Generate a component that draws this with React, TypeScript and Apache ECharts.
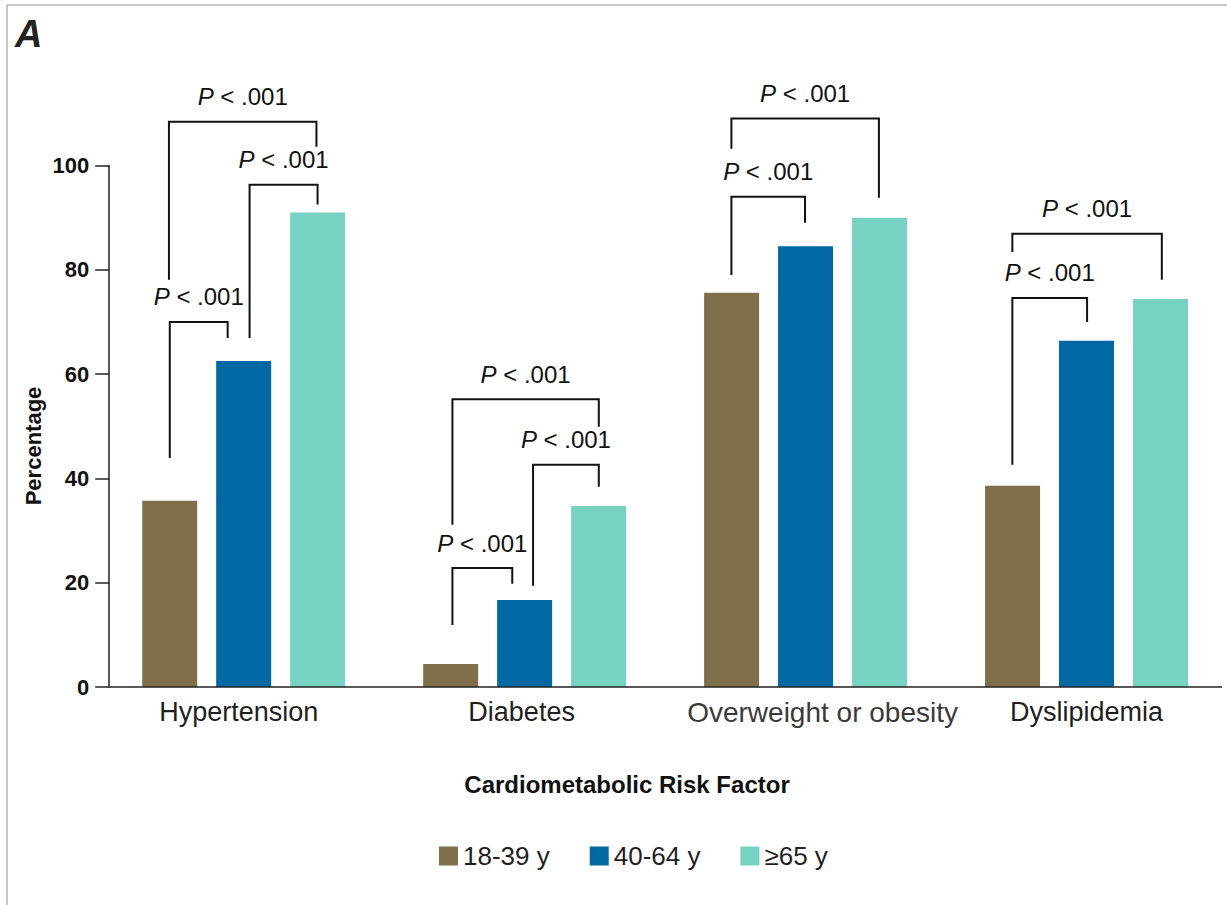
import { useEffect, useRef } from "react";
import * as echarts from "echarts";

const categories = ["Hypertension", "Diabetes", "Overweight or obesity", "Dyslipidemia"];
const seriesNames = ["18-39 y", "40-64 y", "≥65 y"];
const age18to39 = [35.7, 4.4, 75.6, 38.6];
const age40to64 = [62.5, 16.7, 84.5, 66.4];
const age65plus = [91.0, 34.7, 90.0, 74.4];
const yMin = 0;
const yMax = 100;
const yStep = 20;

// Significance brackets: category index, left / right leg offset (fraction of the
// category band from its centre), top of bracket, and end of left / right legs (percent units)
const bracketCategory = [0, 0, 0, 1, 1, 1, 2, 2, 3, 3];
const bracketLeft = [-0.263, 0.021, -0.266, -0.257, 0.03, -0.257, -0.264, -0.264, -0.264, -0.264];
const bracketRight = [-0.057, 0.263, 0.259, -0.044, 0.264, 0.264, -0.002, 0.261, 0.002, 0.268];
const bracketTop = [70.0, 96.3, 108.4, 22.8, 42.6, 55.2, 94.0, 109.0, 74.6, 86.9];
const bracketLeftEnd = [43.9, 66.9, 78.1, 11.9, 19.4, 31.1, 79.0, 103.2, 42.6, 83.4];
const bracketRightEnd = [66.9, 92.5, 103.6, 19.8, 38.4, 49.9, 89.0, 93.8, 70.0, 78.1];
const pValues = ["< .001", "< .001", "< .001", "< .001", "< .001", "< .001", "< .001", "< .001", "< .001", "< .001"];

const FONT = "'Liberation Sans', Arial, Helvetica, sans-serif";
const COLORS = ["#80704A", "#0069A3", "#76D2C2"];
const TEXT = "#1f1f1f";

export default function App() {
  const ref = useRef<HTMLDivElement>(null);

  useEffect(() => {
    if (!ref.current) return;
    const chart = echarts.init(ref.current, undefined, { renderer: "svg" });

    const labelShift = [
      { padding: [0, 10, 0, 0] },
      { padding: [0, 6, 0, 0] },
      { padding: [0, 0, 0, 34], color: "#3a3a3a", fontSize: 28 },
      { padding: [0, 0, 0, 0] },
    ];

    const bracketData = bracketCategory.map((c, i) => [
      c,
      bracketLeft[i],
      bracketRight[i],
      bracketTop[i],
      bracketLeftEnd[i],
      bracketRightEnd[i],
    ]);

    const seriesValues = [age18to39, age40to64, age65plus];

    const option: any = {
      animation: false,
      backgroundColor: "#ffffff",
      textStyle: { fontFamily: FONT },
      grid: { left: 103.2, width: 1126.7, top: 165.5, height: 521.5, containLabel: false },
      legend: {
        data: seriesNames,
        left: 434,
        top: 838,
        icon: "rect",
        itemWidth: 19,
        itemHeight: 19,
        itemGap: 40,
        textStyle: { fontSize: 26, color: TEXT, fontFamily: FONT },
      },
      xAxis: {
        type: "category",
        data: categories.map((c, i) => ({ value: c, textStyle: labelShift[i] })),
        axisLine: { show: false },
        axisTick: { show: false },
        axisLabel: { fontSize: 27, color: TEXT, fontFamily: FONT, margin: 11, interval: 0 },
        splitLine: { show: false },
      },
      yAxis: {
        type: "value",
        min: yMin,
        max: yMax,
        interval: yStep,
        offset: -6,
        axisLine: { show: true, lineStyle: { color: "#222", width: 1.5 } },
        axisTick: { show: true, length: 14, lineStyle: { color: "#222", width: 1.5 } },
        axisLabel: { fontSize: 22, fontWeight: "bold", color: "#111", fontFamily: FONT, margin: 20 },
        splitLine: { show: false },
      },
      series: [
        ...seriesNames.map((name, i) => ({
          name,
          type: "bar",
          data: seriesValues[i],
          barWidth: 55,
          barGap: "34.5%",
          itemStyle: { color: COLORS[i] },
        })),
        {
          type: "custom",
          name: "brackets",
          clip: false,
          silent: true,
          data: bracketData,
          encode: { x: 0, y: 3 },
          z: 5,
          renderItem: (params: any, api: any) => {
            const cat = api.value(0);
            const top = api.coord([cat, api.value(3)]);
            const w = api.size([1, 0])[0];
            const xl = top[0] + api.value(1) * w;
            const xr = top[0] + api.value(2) * w;
            const yl = api.coord([cat, api.value(4)])[1];
            const yr = api.coord([cat, api.value(5)])[1];
            return {
              type: "group",
              children: [
                {
                  type: "polyline",
                  shape: { points: [[xl, yl], [xl, top[1]], [xr, top[1]], [xr, yr]] },
                  style: { stroke: "#111", lineWidth: 2, fill: "none" },
                },
                {
                  type: "text",
                  x: (xl + xr) / 2,
                  y: top[1] - 25,
                  style: {
                    text: "{i|P} " + pValues[params.dataIndex],
                    rich: { i: { fontStyle: "italic", fontSize: 24, fontFamily: FONT, fill: "#111" } },
                    fontSize: 24,
                    fontFamily: FONT,
                    fill: "#111",
                    align: "center",
                    verticalAlign: "middle",
                  },
                },
              ],
            };
          },
        },
      ],
      graphic: [
        { type: "line", shape: { x1: 7, y1: 5, x2: 1227, y2: 5 }, style: { stroke: "#b5b5b5", lineWidth: 1.5 } },
        { type: "line", shape: { x1: 7, y1: 5, x2: 7, y2: 905 }, style: { stroke: "#b5b5b5", lineWidth: 1.5 } },
        {
          type: "text",
          x: 15,
          y: 34,
          style: { text: "A", font: `italic bold 38px ${FONT}`, fill: "#222", verticalAlign: "middle", align: "left" },
        },
        {
          type: "text",
          x: 33,
          y: 446,
          rotation: Math.PI / 2,
          style: { text: "Percentage", font: `bold 22px ${FONT}`, fill: "#111", align: "center", verticalAlign: "middle" },
        },
        {
          type: "text",
          x: 627,
          y: 784,
          style: {
            text: "Cardiometabolic Risk Factor",
            font: `bold 24px ${FONT}`,
            fill: "#111",
            align: "center",
            verticalAlign: "middle",
          },
        },
      ],
    };

    chart.setOption(option);

    // x-axis baseline drawn from the y axis position at value 0 to the plot's right end
    const y0 = chart.convertToPixel({ yAxisIndex: 0 }, yMin) as number;
    const graphics = option.graphic.slice();
    graphics.push({
      type: "line",
      shape: { x1: 109.2, y1: y0, x2: 1222, y2: y0 },
      style: { stroke: "#222", lineWidth: 1.5 },
      z: 10,
    });
    chart.setOption({ graphic: graphics });

    return () => chart.dispose();
  }, []);

  return (
    <div
      ref={ref}
      style={{ position: "absolute", left: 0, top: 0, width: 1227, height: 905, background: "#fff" }}
    />
  );
}
